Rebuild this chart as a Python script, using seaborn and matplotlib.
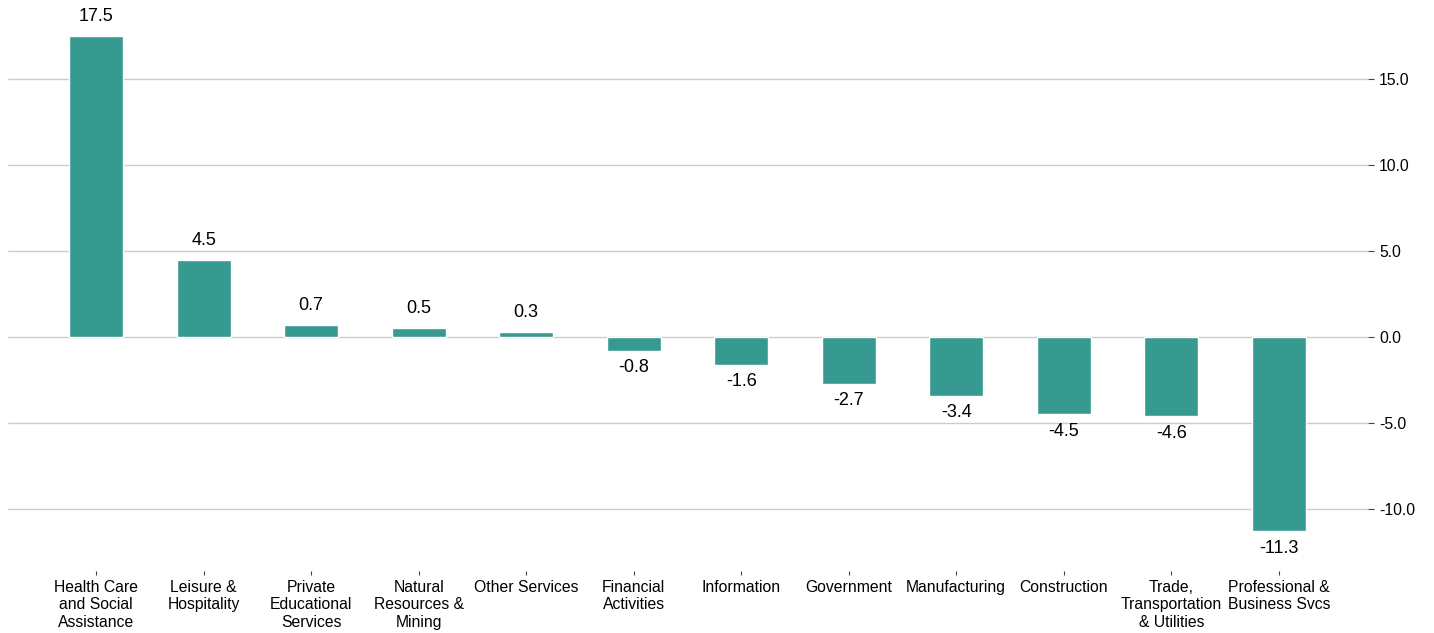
import matplotlib
matplotlib.use("Agg")
import matplotlib.pyplot as plt
import seaborn as sns
import pandas as pd

# Data
sectors = [
    "Health Care\nand Social\nAssistance",
    "Leisure &\nHospitality",
    "Private\nEducational\nServices",
    "Natural\nResources &\nMining",
    "Other Services",
    "Financial\nActivities",
    "Information",
    "Government",
    "Manufacturing",
    "Construction",
    "Trade,\nTransportation\n& Utilities",
    "Professional &\nBusiness Svcs",
]
values = [17.5, 4.5, 0.7, 0.5, 0.3, -0.8, -1.6, -2.7, -3.4, -4.5, -4.6, -11.3]
y_ticks = [-10.0, -5.0, 0.0, 5.0, 10.0, 15.0]

df = pd.DataFrame({"sector": sectors, "value": values})

sns.set_style("white")
plt.rcParams["font.family"] = ["Liberation Sans", "DejaVu Sans"]

fig = plt.figure(figsize=(14.34, 6.33), dpi=100)
ax = fig.add_axes([8 / 1434, 62 / 633, 1360 / 1434, 571 / 633])

sns.barplot(data=df, x="sector", y="value", color="#379A91", saturation=1,
            width=0.5, ax=ax)

# Value labels
for bar, v in zip(ax.patches, values):
    x = bar.get_x() + bar.get_width() / 2
    if v >= 0:
        ax.annotate(f"{v:.1f}", (x, v), xytext=(0, 8), textcoords="offset points",
                    ha="center", va="bottom", fontsize=13, color="black")
    else:
        ax.annotate(f"{v:.1f}", (x, v), xytext=(0, -6), textcoords="offset points",
                    ha="center", va="top", fontsize=13, color="black")

ax.set_xlim(-0.82, 11.83)
ax.set_ylim(-13.6, 19.6)
ax.set_yticks(y_ticks)
ax.set_yticklabels([f"{t:.1f}" for t in y_ticks])
ax.yaxis.tick_right()
ax.grid(axis="y", color="#cccccc", linewidth=1)
ax.set_axisbelow(True)
for s in ax.spines.values():
    s.set_visible(False)
ax.tick_params(axis="y", right=True, length=4, width=0.8, color="#444444",
               labelsize=11.3, labelcolor="black", pad=4)
ax.tick_params(axis="x", bottom=True, length=3, width=0.8, color="#444444",
               labelsize=11.3, labelcolor="black", pad=3.5)
ax.set_xlabel("")
ax.set_ylabel("")

fig.savefig("out.png", dpi=100)
